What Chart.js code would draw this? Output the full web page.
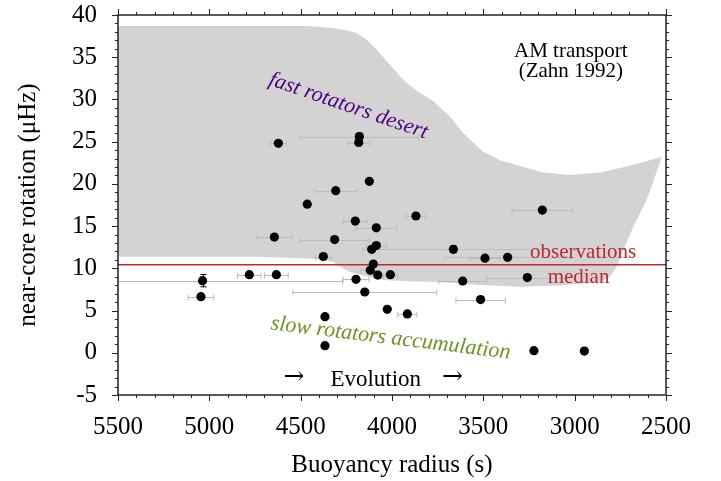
<!DOCTYPE html>
<html><head><meta charset="utf-8">
<script src="https://cdn.jsdelivr.net/npm/chart.js@4.4.0/dist/chart.umd.min.js"></script>
<style>html,body{margin:0;padding:0;background:#fff}canvas{display:block}</style>
</head><body>
<canvas id="c" width="721" height="481"></canvas>
<script>
// ---- data ----
const xTickValues = [5500, 5000, 4500, 4000, 3500, 3000, 2500];
const xTickLabels = ['5500', '5000', '4500', '4000', '3500', '3000', '2500'];
const yTickValues = [-5, 0, 5, 10, 15, 20, 25, 30, 35, 40];
const yTickLabels = ['-5', '0', '5', '10', '15', '20', '25', '30', '35', '40'];

// buoyancy radius (s), near-core rotation (muHz), errors
const starX = [4622,4179,4182,4124,4308,4464,3869,3177,4201,4086,4644,4314,4086,4111,3664,4376,3491,3367,4102,4119,4078,4009,4781,4633,5037,4197,3613,3259,5046,4149,3515,4026,3916,4367,4367,3223,2947];
const starY = [24.8,25.6,24.9,20.3,19.2,17.6,16.2,16.9,15.6,14.8,13.7,13.4,12.7,12.25,12.25,11.4,11.2,11.3,10.5,9.77,9.2,9.25,9.25,9.25,8.54,8.7,8.5,8.9,6.64,7.2,6.3,5.15,4.6,4.27,0.84,0.25,0.2];
const starXErr = [44,325,61,0,116,0,53,165,66,111,97,190,55,0,496,44,82,347,0,50,0,37,64,65,767,71,131,222,70,394,135,0,52,0,0,0,0];
const starYErr = [0,0.4,0,0,0,0,0,0,0,0,0,0,0,0,0.4,0,0,0,0,0,0,0,0,0,0.73,0,0,0,0,0,0,0,0,0,0,0,0];

// "fast rotators desert" region outline (closed polygon)
const desertX = [5500,4487,4400,4323,4250,4192,4137,4082,4027,3985,3956,3910,3863,3776,3682,3611,3502,3411,3318,3173,3026,2861,2681,2522,
                 2606,2679,2734,2770,2807,2861,
                 3080,3299,3518,3628,3792,3956,4049,4159,4230,4268,4323,4432,4745,5500];
const desertY = [38.7,38.7,38.62,38.43,38.2,37.83,37.04,35.86,34.47,33.5,32.7,31.8,31.0,29.85,27.96,26.03,23.81,22.83,22.23,21.35,21.05,21.35,22.24,23.22,
                 18.09,14.93,12.17,10.19,9.01,8.42,
                 7.97,7.83,8.03,8.23,8.42,8.5,8.62,9.15,9.57,10.0,10.79,11.14,11.38,11.38];

const medianRotation = 10.43;
const medianLineX = [5500, 2500];

const SERIF = "'Liberation Serif', 'Times New Roman', serif";

const decor = {
  id: 'decor',
  afterDatasetDraw(chart, args) {
    if (args.index !== 0) return;
    const ctx = chart.ctx, xs = chart.scales.x, ys = chart.scales.y, ca = chart.chartArea;
    ctx.save();
    ctx.beginPath(); ctx.rect(ca.left, ca.top, ca.right - ca.left, ca.bottom - ca.top); ctx.clip();
    ctx.lineWidth = 1;
    ctx.strokeStyle = '#bcbcbc';
    for (let i = 0; i < starX.length; i++) {
      if (!starXErr[i]) continue;
      const y = Math.round(ys.getPixelForValue(starY[i])) + 0.5;
      const x1 = xs.getPixelForValue(starX[i] - starXErr[i]);
      const x2 = xs.getPixelForValue(starX[i] + starXErr[i]);
      ctx.beginPath();
      ctx.moveTo(x1, y); ctx.lineTo(x2, y);
      ctx.moveTo(x1, y - 3); ctx.lineTo(x1, y + 3);
      ctx.moveTo(x2, y - 3); ctx.lineTo(x2, y + 3);
      ctx.stroke();
    }
    ctx.strokeStyle = '#000';
    for (let i = 0; i < starX.length; i++) {
      if (!starYErr[i]) continue;
      const x = Math.round(xs.getPixelForValue(starX[i])) + 0.5;
      const y1 = ys.getPixelForValue(starY[i] - starYErr[i]);
      const y2 = ys.getPixelForValue(starY[i] + starYErr[i]);
      ctx.beginPath();
      ctx.moveTo(x, y1); ctx.lineTo(x, y2);
      ctx.moveTo(x - 3, y1); ctx.lineTo(x + 3, y1);
      ctx.moveTo(x - 3, y2); ctx.lineTo(x + 3, y2);
      ctx.stroke();
    }
    ctx.restore();
  },
  afterDraw(chart) {
    const ctx = chart.ctx, xs = chart.scales.x, ys = chart.scales.y, ca = chart.chartArea;
    ctx.save();
    // frame
    ctx.strokeStyle = '#222';
    ctx.lineWidth = 1.5;
    ctx.strokeRect(ca.left, ca.top, ca.right - ca.left, ca.bottom - ca.top);
    // ticks (outward, all sides)
    ctx.lineWidth = 1;
    ctx.beginPath();
    for (let v = 2500; v <= 5500; v += 100) {
      const px = Math.round(xs.getPixelForValue(v)) + 0.5;
      const len = v % 500 === 0 ? 6 : 3;
      ctx.moveTo(px, ca.bottom); ctx.lineTo(px, ca.bottom + len);
      ctx.moveTo(px, ca.top); ctx.lineTo(px, ca.top - len);
    }
    for (let v = -5; v <= 40; v += 1) {
      const py = Math.round(ys.getPixelForValue(v)) + 0.5;
      const len = v % 5 === 0 ? 6 : 3;
      ctx.moveTo(ca.left, py); ctx.lineTo(ca.left - len, py);
      ctx.moveTo(ca.right, py); ctx.lineTo(ca.right + len, py);
    }
    ctx.stroke();

    // annotations
    const X = v => xs.getPixelForValue(v), Y = v => ys.getPixelForValue(v);
    ctx.fillStyle = '#000';
    ctx.font = '21px ' + SERIF;
    ctx.textAlign = 'center'; ctx.textBaseline = 'alphabetic';
    ctx.fillText('AM transport', X(3021), Y(35.06));
    ctx.fillText('(Zahn 1992)', X(3021), Y(32.62));

    ctx.fillStyle = '#c0262c';
    ctx.textAlign = 'left';
    ctx.fillText('observations', X(3244), Y(11.19));
    ctx.fillText('median', X(3148), Y(8.23));

    ctx.font = 'italic 22px ' + SERIF;
    ctx.fillStyle = '#4b0082';
    ctx.save();
    ctx.translate(X(4249), Y(28.57));
    ctx.rotate(19 * Math.PI / 180);
    ctx.textAlign = 'center';
    ctx.fillText('fast rotators desert', 0, 0);
    ctx.restore();

    ctx.fillStyle = '#6b9424';
    ctx.save();
    ctx.translate(X(4011), Y(1.04));
    ctx.rotate(7 * Math.PI / 180);
    ctx.textAlign = 'center';
    ctx.fillText('slow rotators accumulation', 0, 0);
    ctx.restore();

    ctx.fillStyle = '#000';
    ctx.font = '23px ' + SERIF;
    ctx.textAlign = 'center';
    ctx.fillText('Evolution', X(4089), Y(-3.9));
    ctx.font = "25px 'DejaVu Serif', serif";
    ctx.fillText('\u2192', X(4536), Y(-3.75));
    ctx.fillText('\u2192', X(3669), Y(-3.75));
    ctx.restore();
  }
};

const hiddenTicks = len => ({display: true, drawOnChartArea: false, drawTicks: true,
                             tickLength: len, tickColor: 'rgba(0,0,0,0)', color: 'rgba(0,0,0,0)'});

new Chart(document.getElementById('c'), {
  type: 'scatter',
  data: {
    datasets: [
      {
        label: 'fast rotators desert',
        data: desertX.map((x, i) => ({x, y: desertY[i]})),
        showLine: true, fill: 'shape', tension: 0,
        backgroundColor: '#d3d3d3', borderColor: 'rgba(0,0,0,0)', borderWidth: 0,
        pointRadius: 0, order: 3
      },
      {
        label: 'observations median',
        data: medianLineX.map(x => ({x, y: medianRotation})),
        showLine: true, fill: false, borderColor: '#c8262d', borderWidth: 1.5,
        pointRadius: 0, order: 2
      },
      {
        label: 'stars',
        data: starX.map((x, i) => ({x, y: starY[i]})),
        pointRadius: 4.6, pointBackgroundColor: '#000', backgroundColor: '#000',
        pointBorderWidth: 0, borderWidth: 0, order: 1
      }
    ]
  },
  options: {
    responsive: false, animation: false, devicePixelRatio: 1,
    layout: {padding: {top: 15, right: 55, left: 0, bottom: 0}},
    plugins: {legend: {display: false}, tooltip: {enabled: false}},
    scales: {
      x: {
        type: 'linear', position: 'bottom', min: 2500, max: 5500, reverse: true,
        afterBuildTicks: s => { s.ticks = xTickValues.map(v => ({value: v})); },
        ticks: {
          autoSkip: false, maxRotation: 0, color: '#000', padding: 0,
          font: {family: SERIF, size: 25},
          callback: v => xTickLabels[xTickValues.indexOf(v)]
        },
        grid: hiddenTicks(17), border: {display: false},
        title: {display: true, text: 'Buoyancy radius (s)', color: '#000',
                font: {family: SERIF, size: 25}, padding: {top: 0, bottom: 1}},
        afterFit: s => { s.height = 86; }
      },
      y: {
        type: 'linear', position: 'left', min: -5, max: 40,
        afterBuildTicks: s => { s.ticks = yTickValues.map(v => ({value: v})); },
        ticks: {
          color: '#000', padding: 0,
          font: {family: SERIF, size: 25},
          callback: v => yTickLabels[yTickValues.indexOf(v)]
        },
        grid: hiddenTicks(21), border: {display: false},
        title: {display: true, text: 'near-core rotation (\u03bcHz)', color: '#000',
                font: {family: SERIF, size: 25}, padding: {top: 13, bottom: 0}},
        afterFit: s => { s.width = 118; }
      }
    }
  },
  plugins: [decor]
});
</script>
</body></html>
